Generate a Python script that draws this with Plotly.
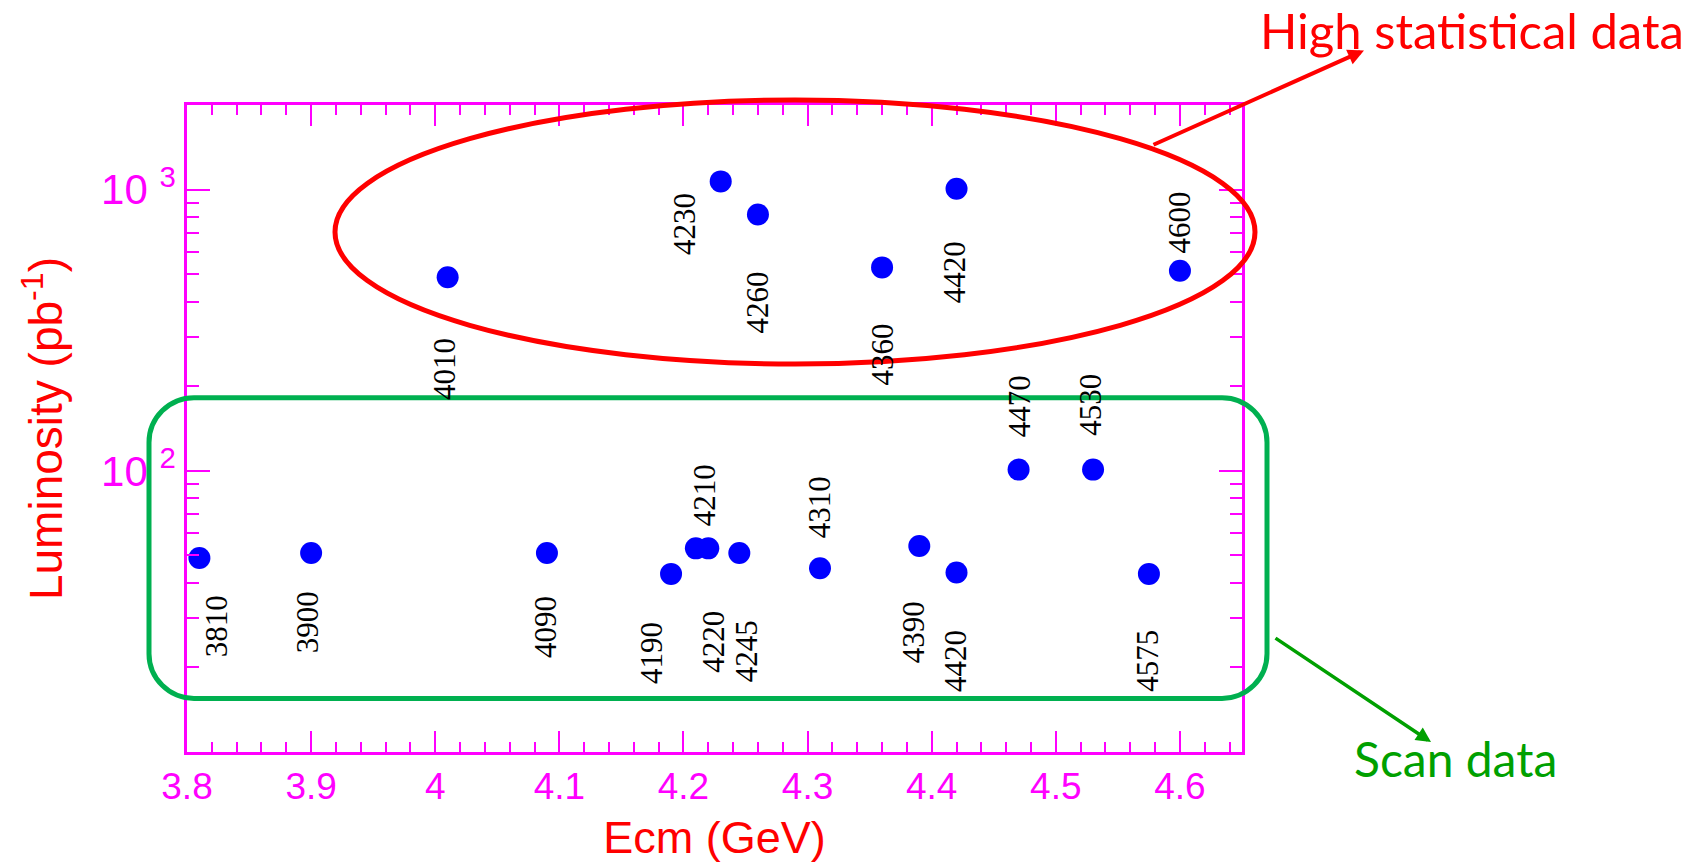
import numpy as np
import plotly.graph_objects as go

# Centre-of-mass energies (MeV) of the data sets and their integrated luminosities (pb^-1)
ecm_mev = [3810, 3900, 4010, 4090, 4190, 4210, 4220, 4230, 4245, 4260,
           4310, 4360, 4390, 4420, 4420, 4470, 4530, 4575, 4600]
luminosity = [49, 51, 488, 51, 43, 53, 53, 1070, 51, 816,
              45, 529, 54, 43.5, 1008, 101, 101, 43, 515]

# Pixel offsets (dx right, dy down) of each rotated energy label from its point
label_offsets = [(18, 68), (-4, 69), (-3, 92), (-2, 74), (-19, 79), (8, -53),
                 (5, 93), (-36, 43), (7, 98), (0, 88), (-1, -61), (0, 87),
                 (-6, 86), (-1, 89), (-2, 84), (1, -63), (-2, -65), (-1, 87),
                 (0, -48)]

x_ticks = [3.8, 3.9, 4.0, 4.1, 4.2, 4.3, 4.4, 4.5, 4.6]
x_tick_text = ["3.8", "3.9", "4", "4.1", "4.2", "4.3", "4.4", "4.5", "4.6"]
y_ticks = [100, 1000]
y_tick_text = ["10 <sup>2</sup>", "10 <sup>3</sup>"]
y_minor = [20, 30, 40, 50, 60, 70, 80, 90, 200, 300, 400, 500, 600, 700, 800, 900]

W, H = 1698, 867
ML, MR, MT, MB = 187, 456, 105, 110
PW, PH = W - ML - MR, H - MT - MB

MAGENTA = "#ff00ff"
RED = "#ff0000"
BOX_GREEN = "#00b050"
TEXT_GREEN = "#00a000"
SERIF = "Times New Roman, Liberation Serif, DejaVu Serif, serif"


def px(xp):
    return (xp - ML) / PW


def py(yp):
    return (H - MB - yp) / PH


x_vals = [e / 1000 for e in ecm_mev]

fig = go.Figure()
fig.add_trace(go.Scatter(
    x=x_vals, y=luminosity, mode="markers",
    marker=dict(size=22, color="#0000ff", line=dict(width=0)),
    hoverinfo="skip", showlegend=False,
))

annotations = []
for e, xv, yv, (dx, dy) in zip(ecm_mev, x_vals, luminosity, label_offsets):
    annotations.append(dict(
        x=xv, y=np.log10(yv), xref="x", yref="y", text=str(e), textangle=-90,
        showarrow=False, xshift=dx, yshift=-dy,
        font=dict(family=SERIF, size=31, color="black"),
    ))

# Callout texts and arrows
annotations.append(dict(
    x=px(1472), y=py(29), xref="paper", yref="paper", text="High statistical data",
    showarrow=False, xanchor="center", yanchor="middle",
    font=dict(family="Lato", size=49, color=RED),
))
annotations.append(dict(
    x=px(1455), y=py(764), xref="paper", yref="paper", text="Scan data",
    showarrow=False, xanchor="center", yanchor="middle",
    font=dict(family="Lato", size=48, color=TEXT_GREEN),
))
annotations.append(dict(
    x=px(1364), y=py(50), xref="paper", yref="paper", text="",
    showarrow=True, arrowhead=2, arrowsize=0.8, arrowwidth=4, arrowcolor=RED,
    axref="pixel", ayref="pixel", ax=1152 - 1364, ay=145 - 50, standoff=0,
))
annotations.append(dict(
    x=px(1431), y=py(747), xref="paper", yref="paper", text="",
    showarrow=True, arrowhead=2, arrowsize=0.85, arrowwidth=3.5, arrowcolor=TEXT_GREEN,
    axref="pixel", ayref="pixel", ax=1274 - 1431, ay=642 - 747, standoff=0,
))


def rounded_rect(x0, y0, x1, y1, r):
    k = 0.5523 * r
    pts = []
    pts.append(f"M{px(x0 + r)},{py(y0)}")
    pts.append(f"L{px(x1 - r)},{py(y0)}")
    pts.append(f"C{px(x1 - r + k)},{py(y0)} {px(x1)},{py(y0 + r - k)} {px(x1)},{py(y0 + r)}")
    pts.append(f"L{px(x1)},{py(y1 - r)}")
    pts.append(f"C{px(x1)},{py(y1 - r + k)} {px(x1 - r + k)},{py(y1)} {px(x1 - r)},{py(y1)}")
    pts.append(f"L{px(x0 + r)},{py(y1)}")
    pts.append(f"C{px(x0 + r - k)},{py(y1)} {px(x0)},{py(y1 - r + k)} {px(x0)},{py(y1 - r)}")
    pts.append(f"L{px(x0)},{py(y0 + r)}")
    pts.append(f"C{px(x0)},{py(y0 + r - k)} {px(x0 + r - k)},{py(y0)} {px(x0 + r)},{py(y0)}")
    pts.append("Z")
    return " ".join(pts)


shapes = [
    dict(type="circle", xref="paper", yref="paper",
         x0=px(335), x1=px(1255), y0=py(366), y1=py(100),
         line=dict(color=RED, width=5), layer="above"),
    dict(type="path", xref="paper", yref="paper",
         path=rounded_rect(149, 400, 1267, 703, 45),
         line=dict(color=BOX_GREEN, width=5), layer="above"),
]

axis_font = dict(family="Liberation Sans", color=MAGENTA)

fig.update_layout(
    width=W, height=H,
    margin=dict(l=ML, r=MR, t=MT, b=MB, pad=0),
    paper_bgcolor="white", plot_bgcolor="white",
    showlegend=False,
    annotations=annotations,
    shapes=shapes,
    xaxis=dict(
        range=[3.8, 4.65], showgrid=False, zeroline=False,
        showline=True, linecolor=MAGENTA, linewidth=2.5, mirror="ticks",
        tickmode="array", tickvals=x_ticks, ticktext=x_tick_text,
        ticks="inside", ticklen=21, tickwidth=2, tickcolor=MAGENTA,
        tickfont=dict(size=37, **axis_font),
        minor=dict(dtick=0.02, tick0=3.8, ticks="inside", ticklen=10,
                   tickwidth=2, tickcolor=MAGENTA, showgrid=False),
        title=dict(text="Ecm (GeV)", standoff=16,
                   font=dict(family="Liberation Sans", size=45, color=RED)),
    ),
    yaxis=dict(
        type="log", range=[1, np.log10(2000)], showgrid=False, zeroline=False,
        showline=True, linecolor=MAGENTA, linewidth=2.5, mirror="ticks",
        tickmode="array", tickvals=y_ticks, ticktext=y_tick_text,
        ticks="inside", ticklen=23, tickwidth=2, tickcolor=MAGENTA,
        tickfont=dict(size=42, **axis_font),
        minor=dict(tickvals=y_minor, ticks="inside", ticklen=12,
                   tickwidth=2, tickcolor=MAGENTA, showgrid=False),
        title=dict(text="Luminosity (pb<sup>-1</sup>)", standoff=24,
                   font=dict(family="Liberation Sans", size=46, color=RED)),
    ),
)

fig.write_html("out.html")
